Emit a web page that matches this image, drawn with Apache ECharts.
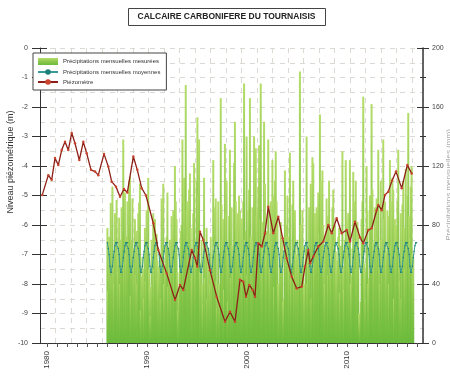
<!DOCTYPE html>
<html>
<head>
<meta charset="utf-8">
<script src="https://cdn.jsdelivr.net/npm/echarts@6/dist/echarts.min.js"></script>
<style>
  html, body { margin: 0; padding: 0; background: #fff; }
  #chart { width: 450px; height: 382px; }
</style>
</head>
<body>
<div id="chart"></div>
<script>
// Monthly rainfall (mm), January 1986 onwards, one row per year
const rainStartYear = 1986;
const monthlyRain = [
  78, 35, 72, 66, 95, 45, 106, 58, 40, 88, 74, 97,    // 1986
  62, 48, 85, 40, 70, 92, 75, 138, 55, 102, 60, 72,   // 1987
  96, 80, 110, 113, 32, 70, 98, 64, 58, 84, 46, 76,   // 1988
  40, 88, 95, 108, 22, 45, 58, 50, 30, 78, 42, 90,    // 1989
  68, 112, 50, 38, 18, 70, 40, 88, 50, 84, 62, 74,    // 1990
  56, 44, 52, 60, 30, 98, 64, 108, 40, 50, 66, 72,    // 1991
  102, 38, 64, 70, 42, 86, 72, 90, 56, 120, 96, 84,   // 1992
  48, 22, 36, 60, 76, 80, 138, 58, 112, 96, 175, 90,  // 1993
  96, 72, 104, 115, 78, 56, 44, 88, 122, 68, 60, 110, // 1994
  153, 100, 138, 48, 54, 70, 40, 26, 112, 44, 60, 78, // 1995
  30, 64, 58, 40, 72, 46, 60, 124, 66, 92, 98, 42,    // 1996
  24, 96, 40, 30, 166, 94, 70, 84, 36, 135, 88, 110,  // 1997
  68, 28, 86, 131, 44, 92, 66, 58, 122, 150, 96, 82,  // 1998
  88, 74, 100, 90, 66, 84, 48, 96, 176, 70, 76, 140,  // 1999
  46, 90, 104, 166, 72, 60, 92, 70, 140, 118, 132, 86,// 2000
  92, 106, 134, 84, 176, 48, 82, 66, 150, 108, 60, 76,// 2001
  70, 138, 74, 52, 96, 68, 124, 100, 38, 110, 130, 96,// 2002
  84, 40, 36, 58, 82, 60, 70, 28, 30, 117, 72, 80,    // 2003
  100, 72, 52, 129, 48, 54, 94, 110, 46, 90, 60, 58,  // 2004
  70, 62, 56, 184, 80, 52, 90, 66, 40, 36, 64, 140,   // 2005
  40, 60, 92, 64, 108, 30, 126, 122, 54, 88, 80, 92,  // 2006
  90, 102, 74, 155, 110, 96, 117, 80, 62, 40, 72, 98, // 2007
  86, 46, 110, 76, 58, 74, 92, 104, 66, 80, 62, 50,   // 2008
  56, 72, 78, 34, 66, 60, 130, 52, 36, 70, 124, 84,   // 2009
  62, 88, 58, 124, 40, 46, 64, 116, 96, 80, 110, 50,  // 2010
  82, 78, 20, 16, 28, 84, 96, 167, 54, 48, 30, 120,   // 2011
  90, 40, 44, 100, 88, 162, 104, 68, 60, 92, 76, 98,  // 2012
  72, 131, 64, 40, 110, 70, 56, 138, 84, 96, 62, 58,  // 2013
  90, 86, 40, 124, 96, 66, 112, 104, 30, 84, 70, 80,  // 2014
  96, 131, 60, 42, 88, 30, 94, 110, 78, 50, 118, 62,  // 2015
  100, 156, 86, 72, 106, 120, 60, 58                  // 2016
];

// Long-term average rainfall for each calendar month (mm), Jan..Dec
const monthlyMean = [68, 64, 60, 52, 48, 48, 52, 58, 62, 66, 68, 68];
const meanYears = [1986, 2016];

// Piezometer: [decimal year, water level (m)]
const piezoYears = [
  1979.53, 1980.13, 1980.47, 1980.8, 1981.13, 1981.47, 1981.8, 1982.13, 1982.47, 1982.8,
  1983.23, 1983.63, 1983.97, 1984.4, 1984.8, 1985.13, 1985.7, 1986.13, 1986.47, 1986.9,
  1987.3, 1987.7, 1988.03, 1988.63, 1989.03, 1989.47, 1989.9, 1990.63, 1991.13, 1991.97,
  1992.8, 1993.3, 1993.63, 1994.47, 1994.8, 1995.03, 1995.3, 1995.63, 1996.3, 1996.97,
  1997.8, 1998.3, 1998.8, 1999.3, 1999.63, 1999.9, 2000.23, 2000.57, 2000.8, 2001.13,
  2001.47, 2001.8, 2002.13, 2002.63, 2003.13, 2003.57, 2003.97, 2004.47, 2004.97, 2005.47,
  2005.8, 2006.13, 2006.3, 2006.63, 2007.13, 2007.63, 2008.13, 2008.47, 2008.97, 2009.47,
  2009.97, 2010.3, 2010.8, 2011.3, 2011.63, 2012.13, 2012.47, 2012.97, 2013.13, 2013.47,
  2013.8, 2014.13, 2014.5, 2014.9, 2015.47, 2016.03, 2016.47
];
const piezoLevels = [
  -4.98, -4.31, -4.47, -3.73, -3.97, -3.46, -3.18, -3.46, -2.88, -3.23,
  -3.8, -3.18, -3.57, -4.13, -4.19, -4.31, -3.59, -4.02, -4.53, -4.7,
  -5.04, -4.78, -4.9, -3.68, -4.13, -4.75, -5.0, -5.94, -6.85, -7.64,
  -8.54, -8.03, -8.2, -6.85, -7.12, -7.41, -6.23, -6.51, -7.53, -8.43,
  -9.28, -8.94, -9.28, -7.86, -7.92, -8.43, -8.03, -8.2, -8.43, -6.62,
  -6.73, -6.28, -5.38, -6.28, -5.72, -6.45, -7.13, -7.75, -8.15, -8.09,
  -7.41, -6.85, -7.3, -7.07, -6.73, -6.56, -6.0, -6.28, -5.77, -6.28,
  -6.17, -6.56, -5.89, -6.42, -6.62, -6.17, -6.11, -5.5, -5.32, -5.5,
  -4.98, -4.87, -4.5, -4.19, -4.75, -3.97, -4.25
];

// Axis labels
const yearLabels = [1980, 1990, 2000, 2010];
const levelTicks = [0, -1, -2, -3, -4, -5, -6, -7, -8, -9, -10];
const rainTicks = [0, 40, 80, 120, 160, 200];

const names = {
  rain: 'Précipitations mensuelles mesurées',
  mean: 'Précipitations mensuelles moyennes',
  piezo: 'Piézomètre'
};

// ---- build series data ----
const rainData = monthlyRain.map((v, i) => [rainStartYear + (i + 0.5) / 12, v]);
const meanData = [];
for (let y = meanYears[0]; y <= meanYears[1]; y++) {
  monthlyMean.forEach((v, m) => meanData.push([y + (m + 0.5) / 12, v]));
}
const piezoData = piezoYears.map((y, i) => [y, piezoLevels[i]]);

const yearTicks = [];
for (let y = 1980; y <= 2017; y++) yearTicks.push(y);

const X_MIN = 1979.3, X_MAX = 2017.6;
const axisColor = '#333';
const gridDash = { color: '#dcd9d4', width: 1, type: [5, 5] };

const chart = echarts.init(document.getElementById('chart'), null, { renderer: 'canvas' });

chart.setOption({
  animation: false,
  backgroundColor: '#fff',
  textStyle: { fontFamily: 'Liberation Sans, Arial, sans-serif' },
  grid: { left: 40, right: 27, top: 48, bottom: 39, containLabel: false },
  legend: {
    orient: 'vertical',
    left: 33, top: 53,
    padding: [5, 6, 5, 4],
    itemGap: 4,
    itemWidth: 20,
    itemHeight: 7,
    backgroundColor: '#fff',
    borderColor: '#444',
    borderWidth: 1,
    textStyle: { fontSize: 6, color: '#333' },
    data: [
      { name: names.rain, icon: 'rect' },
      { name: names.mean },
      { name: names.piezo }
    ]
  },
  graphic: [
    {
      type: 'rect', left: 128, top: 8,
      shape: { width: 197, height: 17 },
      style: { fill: '#fff', stroke: '#444', lineWidth: 1 }
    },
    {
      type: 'text', x: 226.5, y: 17,
      style: {
        text: 'CALCAIRE CARBONIFERE DU TOURNAISIS',
        font: 'bold 8.5px Liberation Sans, Arial, sans-serif',
        fill: '#222', align: 'center', verticalAlign: 'middle'
      }
    },
    {
      type: 'text', x: 11, y: 162, rotation: Math.PI / 2,
      style: {
        text: 'Niveau piézométrique (m)',
        font: '9px Liberation Sans, Arial, sans-serif',
        fill: '#333', align: 'center', verticalAlign: 'middle'
      }
    },
    {
      type: 'text', x: 449, y: 185, rotation: Math.PI / 2,
      style: {
        text: 'Précipitations mensuelles (mm)',
        font: '8px Liberation Sans, Arial, sans-serif',
        fill: '#aaa', align: 'center', verticalAlign: 'middle'
      }
    }
  ],
  xAxis: [
    {
      type: 'value', min: X_MIN, max: X_MAX,
      axisLine: { show: true, onZero: false, lineStyle: { color: axisColor, width: 1 } },
      axisTick: { show: true, customValues: yearTicks, length: 4, lineStyle: { color: '#555' } },
      axisLabel: {
        customValues: yearLabels, rotate: 90, fontSize: 8, color: '#333', margin: 8,
        formatter: v => String(v)
      },
      splitLine: { show: false }
    },
    {
      // vertical dashed grid
      type: 'value', min: X_MIN, max: X_MAX, interval: 1.55,
      position: 'bottom',
      axisLine: { show: false }, axisTick: { show: false }, axisLabel: { show: false },
      splitLine: { show: true, lineStyle: gridDash }
    }
  ],
  yAxis: [
    {
      type: 'value', min: -10, max: 0, interval: 1, position: 'left',
      axisLine: { show: true, lineStyle: { color: axisColor, width: 1 } },
      axisTick: { show: true, length: 8, lineStyle: { color: axisColor } },
      axisLabel: { fontSize: 7, color: '#444', margin: 12, formatter: v => String(v) },
      splitLine: { show: true, lineStyle: gridDash },
      minorTick: { show: false, splitNumber: 2 },
      minorSplitLine: { show: true, lineStyle: gridDash }
    },
    {
      type: 'value', min: 0, max: 200, interval: 40, position: 'right',
      axisLine: { show: true, lineStyle: { color: axisColor, width: 1.5 } },
      axisTick: { show: true, length: 6, lineStyle: { color: axisColor } },
      minorTick: { show: true, splitNumber: 2, length: 3, lineStyle: { color: axisColor } },
      axisLabel: { fontSize: 7, color: '#444', margin: 9 },
      splitLine: { show: false }
    },
    {
      // inner half of the crossing ticks on the left axis
      type: 'value', min: -10, max: 0, interval: 1, position: 'left',
      axisLine: { show: false },
      axisTick: { show: true, inside: true, length: 7, lineStyle: { color: axisColor } },
      axisLabel: { show: false }, splitLine: { show: false }
    },
    {
      // inner half of the crossing ticks on the right axis
      type: 'value', min: 0, max: 200, interval: 40, position: 'right',
      axisLine: { show: false },
      axisTick: { show: true, inside: true, length: 6, lineStyle: { color: axisColor } },
      minorTick: { show: true, splitNumber: 2, length: 3, lineStyle: { color: axisColor } },
      axisLabel: { show: false }, splitLine: { show: false }
    }
  ],
  series: [
    {
      name: names.rain,
      type: 'bar',
      xAxisIndex: 0, yAxisIndex: 1,
      barWidth: 2,
      data: rainData,
      itemStyle: {
        color: new echarts.graphic.LinearGradient(0, 0, 0, 1, [
          { offset: 0, color: '#b4dc6a' },
          { offset: 0.5, color: '#8cc84c' },
          { offset: 1, color: '#6cbb3c' }
        ])
      },
      z: 2
    },
    {
      name: names.mean,
      type: 'line',
      xAxisIndex: 0, yAxisIndex: 1,
      data: meanData,
      symbol: 'circle', symbolSize: 1.5,
      lineStyle: { color: '#3a9a96', width: 1 },
      itemStyle: { color: '#1f7f78' },
      z: 3
    },
    {
      name: names.piezo,
      type: 'line',
      xAxisIndex: 0, yAxisIndex: 0,
      data: piezoData,
      symbol: 'circle', symbolSize: 2.5,
      lineStyle: { color: '#8e1f16', width: 1.3 },
      itemStyle: { color: '#c9452e' },
      z: 4
    }
  ]
});
</script>
</body>
</html>
